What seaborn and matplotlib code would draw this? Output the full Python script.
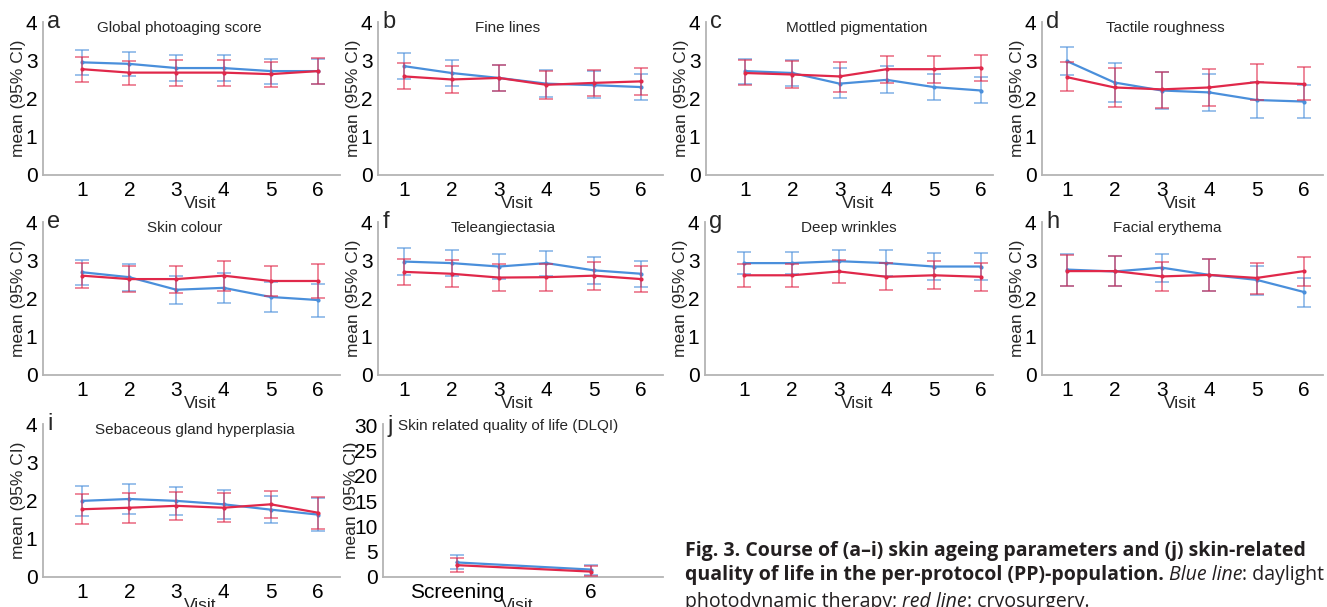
import numpy as np
import pandas as pd
import matplotlib
matplotlib.use("Agg")
import matplotlib.pyplot as plt
import seaborn as sns

# ---------------- data ----------------
visits = [1, 2, 3, 4, 5, 6]
panel_letters = ["a", "b", "c", "d", "e", "f", "g", "h", "i"]
panel_titles = ["Global photoaging score", "Fine lines", "Mottled pigmentation",
                "Tactile roughness", "Skin colour", "Teleangiectasia",
                "Deep wrinkles", "Facial erythema", "Sebaceous gland hyperplasia"]

# blue: daylight photodynamic therapy ; red: cryosurgery
blue_mean = {
    "a": [2.96, 2.92, 2.81, 2.81, 2.73, 2.73],
    "b": [2.86, 2.68, 2.55, 2.40, 2.36, 2.31],
    "c": [2.73, 2.68, 2.40, 2.50, 2.31, 2.22],
    "d": [2.99, 2.43, 2.22, 2.17, 1.97, 1.93],
    "e": [2.70, 2.57, 2.24, 2.29, 2.05, 1.97],
    "f": [2.98, 2.94, 2.85, 2.94, 2.75, 2.66],
    "g": [2.94, 2.94, 2.99, 2.94, 2.85, 2.85],
    "h": [2.77, 2.72, 2.82, 2.63, 2.50, 2.18],
    "i": [2.00, 2.05, 2.00, 1.91, 1.77, 1.64],
}
blue_hi = {
    "a": [3.28, 3.23, 3.16, 3.16, 3.05, 3.05],
    "b": [3.21, 3.03, 2.88, 2.75, 2.74, 2.65],
    "c": [3.05, 3.02, 2.80, 2.86, 2.66, 2.58],
    "d": [3.37, 2.94, 2.71, 2.66, 2.45, 2.37],
    "e": [3.02, 2.92, 2.59, 2.68, 2.44, 2.40],
    "f": [3.33, 3.28, 3.19, 3.27, 3.11, 3.00],
    "g": [3.24, 3.24, 3.28, 3.28, 3.21, 3.21],
    "h": [3.19, 3.12, 3.19, 3.06, 2.86, 2.55],
    "i": [2.40, 2.44, 2.37, 2.29, 2.14, 2.07],
}
blue_lo = {
    "a": [2.63, 2.59, 2.48, 2.48, 2.40, 2.40],
    "b": [2.52, 2.33, 2.22, 2.04, 2.01, 1.98],
    "c": [2.39, 2.34, 2.02, 2.15, 1.98, 1.88],
    "d": [2.62, 1.93, 1.74, 1.67, 1.50, 1.49],
    "e": [2.36, 2.22, 1.87, 1.89, 1.66, 1.52],
    "f": [2.63, 2.59, 2.51, 2.59, 2.39, 2.31],
    "g": [2.65, 2.65, 2.71, 2.60, 2.49, 2.49],
    "h": [2.34, 2.33, 2.44, 2.21, 2.11, 1.78],
    "i": [1.61, 1.65, 1.63, 1.52, 1.41, 1.21],
}
red_mean = {
    "a": [2.78, 2.69, 2.69, 2.69, 2.65, 2.73],
    "b": [2.59, 2.51, 2.55, 2.37, 2.42, 2.46],
    "c": [2.68, 2.64, 2.59, 2.78, 2.78, 2.82],
    "d": [2.57, 2.30, 2.25, 2.30, 2.44, 2.39],
    "e": [2.61, 2.52, 2.52, 2.61, 2.47, 2.47],
    "f": [2.71, 2.66, 2.56, 2.57, 2.61, 2.52],
    "g": [2.62, 2.62, 2.72, 2.58, 2.62, 2.58],
    "h": [2.73, 2.73, 2.59, 2.63, 2.55, 2.73],
    "i": [1.78, 1.82, 1.87, 1.82, 1.91, 1.69],
}
red_hi = {
    "a": [3.09, 3.00, 3.02, 3.02, 2.97, 3.07],
    "b": [2.93, 2.86, 2.88, 2.73, 2.75, 2.80],
    "c": [3.03, 2.99, 2.98, 3.12, 3.12, 3.16],
    "d": [2.96, 2.80, 2.71, 2.79, 2.91, 2.83],
    "e": [2.95, 2.87, 2.87, 3.00, 2.87, 2.91],
    "f": [3.06, 3.01, 2.92, 2.92, 2.98, 2.87],
    "g": [2.92, 2.92, 3.01, 2.93, 2.99, 2.95],
    "h": [3.14, 3.12, 2.97, 3.06, 2.94, 3.10],
    "i": [2.17, 2.22, 2.24, 2.22, 2.27, 2.11],
}
red_lo = {
    "a": [2.45, 2.37, 2.34, 2.34, 2.30, 2.39],
    "b": [2.26, 2.15, 2.22, 2.00, 2.07, 2.11],
    "c": [2.36, 2.29, 2.19, 2.43, 2.43, 2.47],
    "d": [2.21, 1.79, 1.77, 1.81, 1.96, 1.96],
    "e": [2.28, 2.17, 2.15, 2.22, 2.07, 2.03],
    "f": [2.36, 2.30, 2.22, 2.22, 2.24, 2.17],
    "g": [2.32, 2.32, 2.42, 2.23, 2.27, 2.20],
    "h": [2.33, 2.33, 2.22, 2.21, 2.13, 2.34],
    "i": [1.39, 1.43, 1.49, 1.45, 1.54, 1.25],
}

# panel j: DLQI
dlqi_visits = ["Screening", "6"]
dlqi_blue_mean = [2.88, 1.47]
dlqi_blue_hi = [4.35, 2.28]
dlqi_blue_lo = [1.54, 0.33]
dlqi_red_mean = [2.34, 1.07]
dlqi_red_hi = [3.68, 2.08]
dlqi_red_lo = [0.94, 0.27]

# ---------------- style ----------------
sns.set_style("white")
plt.rcParams["font.family"] = ["Liberation Sans", "DejaVu Sans"]

BLUE = "#4a8fdb"
RED = "#e0284a"
SPINE = "#b4b4b4"

W, H = 1327, 607
fig = plt.figure(figsize=(W / 100, H / 100), dpi=100)


def px_axes(x0, x1, ybot, ytop):
    return fig.add_axes([x0 / W, 1 - ybot / H, (x1 - x0) / W, (ybot - ytop) / H])


# axes pixel boxes (x0, x1, y_bottom, y_top), xlims, title x, xlabel x
layout = {
    "a": ((43, 340, 175, 22), (0.17, 6.47), 0.458, 0.53),
    "b": ((378, 663, 175, 22), (0.45, 6.46), 0.456, 0.49),
    "c": ((706, 993, 175, 22), (0.17, 6.25), 0.526, 0.53),
    "d": ((1042, 1323, 175, 22), (0.47, 6.40), 0.44, 0.49),
    "e": ((43, 340, 375, 222), (0.17, 6.47), 0.477, 0.53),
    "f": ((378, 663, 375, 222), (0.45, 6.46), 0.438, 0.49),
    "g": ((705, 993, 375, 222), (0.17, 6.25), 0.50, 0.53),
    "h": ((1042, 1323, 375, 222), (0.47, 6.40), 0.445, 0.49),
    "i": ((43, 340, 577, 424), (0.17, 6.47), 0.513, 0.53),
}


def style_axes(ax):
    sns.despine(ax=ax)
    for s in ("left", "bottom"):
        ax.spines[s].set_color(SPINE)
        ax.spines[s].set_linewidth(1.3)
    ax.tick_params(axis="both", length=0, labelsize=15, pad=4, colors="black")


def draw_series(ax, x, mean, lo, hi, color, zorder):
    df = pd.DataFrame({"x": x, "mean": mean})
    sns.lineplot(data=df, x="x", y="mean", ax=ax, color=color, linewidth=1.6,
                 marker="o", markersize=3, markeredgewidth=0, zorder=zorder)
    m = np.asarray(mean)
    yerr = np.vstack([m - np.asarray(lo), np.asarray(hi) - m])
    ax.errorbar(x, m, yerr=yerr, fmt="none", ecolor=color, alpha=0.55,
                elinewidth=1.4, capsize=5, capthick=1.4, zorder=zorder - 1)


for letter, title in zip(panel_letters, panel_titles):
    (x0, x1, yb, yt), xl, tx, lx = layout[letter]
    ax = px_axes(x0, x1, yb, yt)
    draw_series(ax, visits, blue_mean[letter], blue_lo[letter], blue_hi[letter], BLUE, 4)
    draw_series(ax, visits, red_mean[letter], red_lo[letter], red_hi[letter], RED, 6)
    ax.set_xlim(*xl)
    ax.set_ylim(0, 4.02)
    ax.set_xticks(visits)
    ax.set_xticklabels([str(v) for v in visits])
    ax.set_yticks([0, 1, 2, 3, 4])
    style_axes(ax)
    ax.set_xlabel("Visit", fontsize=12.5)
    ax.xaxis.set_label_coords(lx, -0.135)
    ax.set_ylabel("mean (95% CI)", fontsize=12.5, labelpad=0)
    ax.text(tx, 0.96, title, transform=ax.transAxes, ha="center", va="center",
            fontsize=11)
    ax.text(0.015, 1.0, letter, transform=ax.transAxes, ha="left", va="center",
            fontsize=17)

# panel j
axj = px_axes(383, 663, 577, 424)
xj = [0, 1]
draw_series(axj, xj, dlqi_blue_mean, dlqi_blue_lo, dlqi_blue_hi, BLUE, 4)
draw_series(axj, xj, dlqi_red_mean, dlqi_red_lo, dlqi_red_hi, RED, 6)
axj.set_xlim(-0.55, 1.54)
axj.set_ylim(0, 30.2)
axj.set_xticks(xj)
axj.set_xticklabels(dlqi_visits)
axj.set_yticks([0, 5, 10, 15, 20, 25, 30])
style_axes(axj)
axj.set_xlabel("Visit", fontsize=12.5)
axj.xaxis.set_label_coords(0.48, -0.135)
axj.set_ylabel("mean (95% CI)", fontsize=12.5)
axj.yaxis.set_label_coords(-0.085, 0.5)
axj.text(0.015, 0.99, "j", transform=axj.transAxes, ha="left", va="center",
         fontsize=17)
axj.text(0.055, 0.99, "Skin related quality of life (DLQI)", transform=axj.transAxes,
         ha="left", va="center", fontsize=11)

# ---------------- caption ----------------
fig.canvas.draw()
renderer = fig.canvas.get_renderer()
CAP_FONT = ["Open Sans", "DejaVu Sans"]
CAP_SIZE = 14.05
CAP_COLOR = "#231f20"


def rich_line(x_px, y_px, pieces):
    x = x_px
    for txt, weight, style in pieces:
        t = fig.text(x / W, 1 - y_px / H, txt, fontsize=CAP_SIZE, family=CAP_FONT,
                     fontweight=weight, fontstyle=style, color=CAP_COLOR,
                     ha="left", va="baseline")
        bb = t.get_window_extent(renderer=renderer)
        x += bb.width


rich_line(685, 556, [("Fig. 3. Course of (a\u2013i) skin ageing parameters and (j) skin-related",
                      "bold", "normal")])
rich_line(685, 580, [("quality of life in the per-protocol (PP)-population. ", "bold", "normal"),
                     ("Blue line", "normal", "italic"),
                     (": daylight", "normal", "normal")])
rich_line(685, 607, [("photodynamic therapy; ", "normal", "normal"),
                     ("red line", "normal", "italic"),
                     (": cryosurgery.", "normal", "normal")])

fig.savefig("out.png", dpi=100)
